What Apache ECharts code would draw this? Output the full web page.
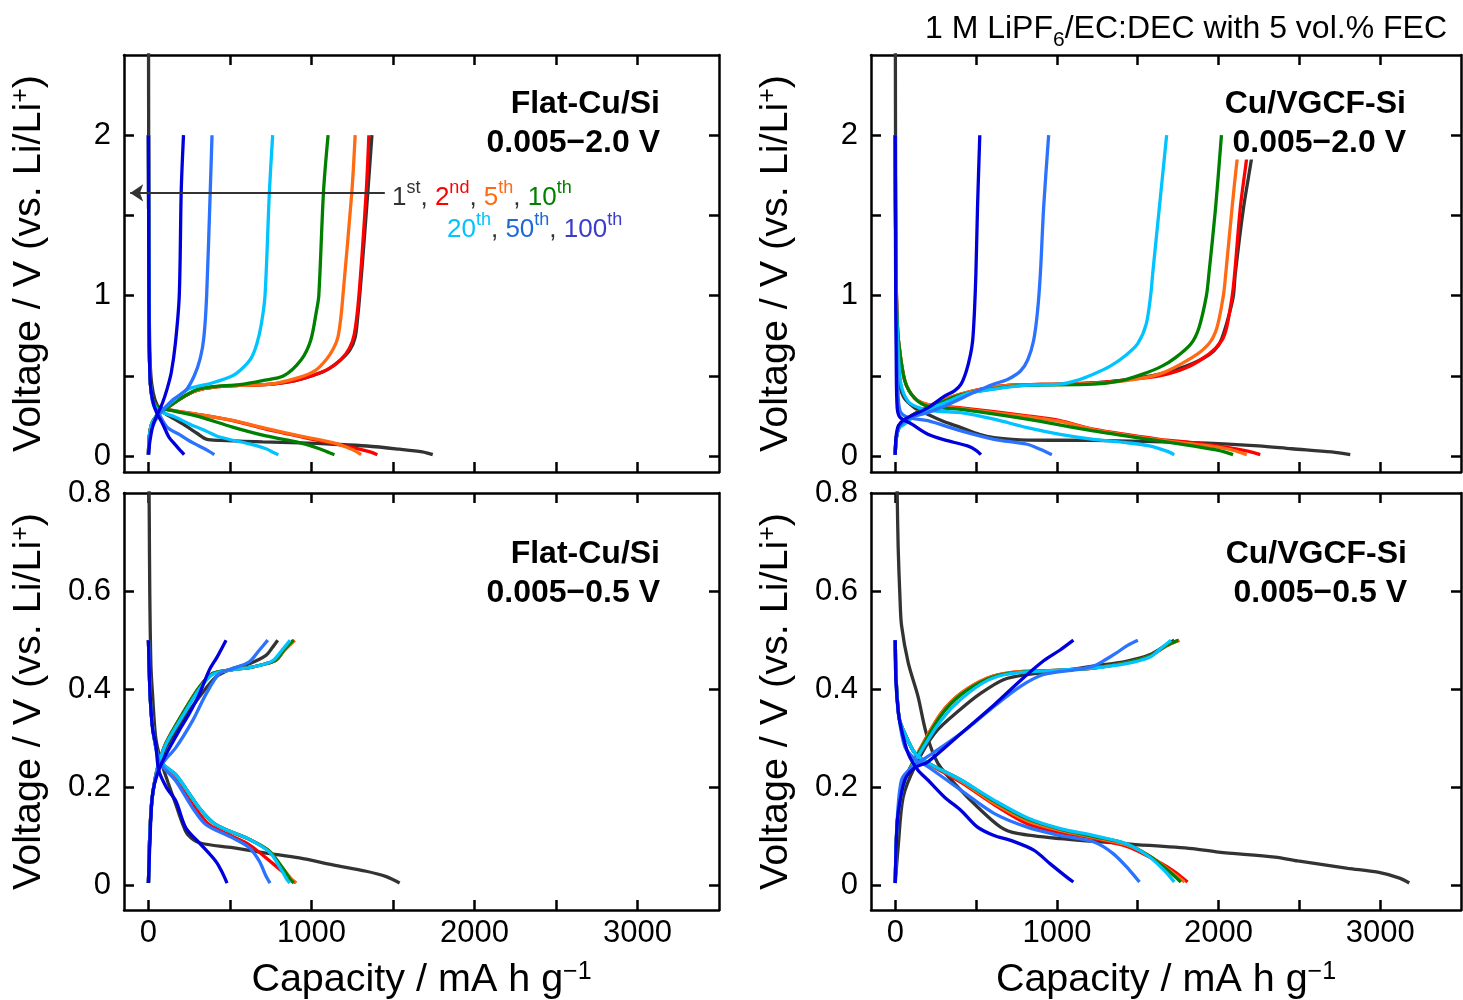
<!DOCTYPE html>
<html>
<head>
<meta charset="utf-8">
<script src="https://cdn.jsdelivr.net/npm/echarts@6/dist/echarts.min.js"></script>
<style>html,body{margin:0;padding:0;background:#fff}#c{width:1463px;height:1000px}</style>
</head>
<body>
<div id="c"></div>
<script>
// ---------------- DATA ----------------
const cycleNames = ['1st', '2nd', '5th', '10th', '20th', '50th', '100th'];

// Ticks / labels
const xTickValues = [0, 500, 1000, 1500, 2000, 2500, 3000];
const xLabelValues = [0, 1000, 2000, 3000];
const wideYTicks = [0, 0.5, 1, 1.5, 2];
const wideYLabels = [0, 1, 2];
const narrowYTicks = [0, 0.2, 0.4, 0.6];
const narrowYLabels = [0, 0.2, 0.4, 0.6, 0.8];
const arrowLine = [[1450, 1.64], [-112, 1.64]];

// Flat-Cu/Si, 0.005-2.0 V  ([capacity mAh/g, voltage V])
const flatWideDischarge = [
  [[0,3.0],[2,1.6],[5,0.9],[10,0.6],[20,0.45],[40,0.35],[70,0.29],[110,0.26],[210,0.2],[300,0.14],[355,0.105],[440,0.097],[700,0.088],[930,0.082],[1140,0.073],[1340,0.062],[1540,0.042],[1680,0.025],[1744,0.008]],
  [[0,2.0],[2,1.2],[5,0.7],[12,0.45],[30,0.34],[70,0.3],[170,0.28],[300,0.26],[516,0.22],[721,0.167],[1008,0.104],[1254,0.052],[1360,0.025],[1404,0.008]],
  [[0,2.0],[2,1.2],[5,0.7],[12,0.45],[30,0.34],[70,0.3],[170,0.28],[300,0.26],[516,0.222],[721,0.172],[926,0.125],[1131,0.083],[1250,0.04],[1305,0.008]],
  [[0,2.0],[2,1.2],[5,0.7],[12,0.45],[30,0.34],[70,0.3],[160,0.28],[311,0.245],[516,0.18],[721,0.125],[926,0.083],[1049,0.045],[1110,0.02],[1141,0.008]],
  [[0,2.0],[2,1.2],[5,0.7],[12,0.45],[30,0.33],[70,0.28],[170,0.24],[250,0.2],[353,0.156],[437,0.118],[619,0.075],[721,0.045],[770,0.02],[797,0.008]],
  [[0,2.0],[2,1.2],[5,0.7],[12,0.45],[30,0.32],[60,0.27],[117,0.177],[189,0.135],[250,0.095],[311,0.062],[370,0.03],[404,0.008]],
  [[0,2.0],[2,1.2],[5,0.7],[12,0.45],[30,0.33],[50,0.27],[87,0.2],[127,0.115],[160,0.075],[195,0.035],[219,0.008]]
];
const flatWideCharge = [
  [[0,0.008],[5,0.12],[20,0.2],[50,0.25],[100,0.29],[200,0.36],[300,0.41],[400,0.43],[560,0.44],[760,0.448],[900,0.47],[1006,0.5],[1100,0.54],[1180,0.6],[1235,0.66],[1268,0.74],[1285,0.88],[1296,1.0],[1320,1.3],[1346,1.65],[1371,2.0]],
  [[0,0.008],[5,0.12],[20,0.2],[50,0.25],[100,0.29],[200,0.36],[300,0.41],[400,0.43],[560,0.44],[760,0.448],[900,0.47],[1000,0.5],[1100,0.54],[1180,0.6],[1232,0.67],[1263,0.76],[1291,1.0],[1336,1.65],[1352,2.0]],
  [[0,0.008],[5,0.12],[20,0.2],[50,0.25],[100,0.29],[200,0.36],[300,0.41],[400,0.43],[560,0.44],[760,0.45],[926,0.49],[1020,0.53],[1090,0.6],[1135,0.67],[1162,0.74],[1180,0.86],[1193,1.0],[1248,1.65],[1268,2.0]],
  [[0,0.008],[5,0.12],[20,0.2],[50,0.25],[100,0.29],[200,0.36],[300,0.415],[400,0.432],[560,0.445],[700,0.47],[830,0.5],[937,0.6],[995,0.72],[1030,0.9],[1045,1.0],[1074,1.65],[1102,2.0]],
  [[0,0.008],[5,0.12],[20,0.2],[50,0.25],[100,0.3],[170,0.36],[250,0.42],[390,0.455],[516,0.5],[580,0.55],[630,0.61],[665,0.7],[692,0.82],[715,1.0],[742,1.65],[762,2.0]],
  [[0,0.008],[5,0.1],[20,0.17],[60,0.25],[150,0.35],[230,0.41],[281,0.5],[318,0.61],[340,0.74],[357,1.0],[379,1.65],[390,2.0]],
  [[0,0.008],[10,0.1],[30,0.2],[60,0.27],[86,0.33],[115,0.42],[140,0.52],[165,0.7],[189,1.0],[201,1.65],[215,2.0]]
];

// Cu/VGCF-Si, 0.005-2.0 V
const vgcfWideDischarge = [
  [[0,3.0],[3,1.5],[8,0.8],[20,0.5],[50,0.37],[120,0.3],[200,0.26],[300,0.215],[407,0.177],[520,0.135],[611,0.115],[816,0.099],[1225,0.097],[1838,0.083],[2247,0.063],[2452,0.045],[2700,0.025],[2815,0.008]],
  [[0,2.0],[3,1.3],[10,0.9],[20,0.72],[59,0.47],[120,0.36],[202,0.32],[407,0.3],[816,0.25],[1020,0.22],[1225,0.167],[1634,0.104],[1838,0.083],[2043,0.055],[2180,0.03],[2258,0.008]],
  [[0,2.0],[3,1.3],[10,0.9],[20,0.72],[59,0.47],[120,0.36],[202,0.32],[407,0.295],[816,0.245],[1020,0.215],[1225,0.165],[1634,0.1],[1838,0.075],[2050,0.045],[2175,0.008]],
  [[0,2.0],[3,1.3],[10,0.9],[20,0.72],[59,0.47],[120,0.36],[202,0.31],[407,0.29],[816,0.229],[1225,0.156],[1634,0.094],[1838,0.063],[2000,0.035],[2090,0.008]],
  [[0,2.0],[3,1.3],[8,0.9],[15,0.72],[35,0.45],[80,0.34],[150,0.3],[250,0.28],[407,0.27],[611,0.229],[816,0.177],[1020,0.135],[1225,0.104],[1429,0.083],[1572,0.063],[1680,0.03],[1726,0.008]],
  [[0,2.0],[3,1.2],[8,0.7],[15,0.45],[30,0.28],[80,0.24],[202,0.22],[407,0.156],[611,0.104],[816,0.073],[900,0.04],[969,0.008]],
  [[0,2.0],[2,1.2],[6,0.6],[12,0.3],[30,0.24],[100,0.2],[202,0.135],[304,0.1],[447,0.0625],[500,0.035],[530,0.008]]
];
const vgcfWideCharge = [
  [[0,0.008],[5,0.1],[20,0.17],[59,0.22],[150,0.27],[250,0.32],[400,0.38],[550,0.42],[700,0.44],[1020,0.448],[1225,0.455],[1429,0.475],[1634,0.51],[1800,0.56],[1941,0.63],[2000,0.69],[2030,0.76],[2070,0.9],[2092,1.0],[2104,1.14],[2155,1.55],[2202,1.84],[2225,2.0]],
  [[0,0.008],[5,0.1],[20,0.17],[59,0.22],[150,0.28],[250,0.33],[400,0.385],[550,0.42],[700,0.44],[1020,0.448],[1225,0.455],[1429,0.475],[1634,0.5],[1800,0.55],[1941,0.635],[2020,0.72],[2050,0.8],[2085,1.0],[2100,1.14],[2135,1.55],[2172,1.84],[2190,2.0]],
  [[0,0.008],[5,0.1],[20,0.17],[59,0.22],[150,0.28],[250,0.33],[400,0.385],[550,0.42],[700,0.44],[1020,0.448],[1225,0.452],[1429,0.47],[1634,0.51],[1838,0.615],[1940,0.7],[1990,0.8],[2030,1.0],[2045,1.14],[2084,1.55],[2114,1.84],[2135,2.0]],
  [[0,0.008],[5,0.1],[20,0.17],[59,0.22],[150,0.28],[250,0.32],[400,0.38],[611,0.42],[800,0.44],[1225,0.448],[1400,0.47],[1531,0.51],[1650,0.56],[1736,0.615],[1830,0.7],[1879,0.8],[1925,1.0],[1941,1.14],[1982,1.55],[2018,2.0]],
  [[0,0.008],[5,0.1],[20,0.17],[59,0.2],[150,0.27],[304,0.33],[450,0.39],[611,0.417],[800,0.44],[1020,0.448],[1120,0.47],[1225,0.51],[1330,0.56],[1429,0.63],[1500,0.7],[1552,0.82],[1580,1.0],[1593,1.14],[1634,1.55],[1679,2.0]],
  [[0,0.008],[8,0.12],[30,0.19],[100,0.24],[200,0.27],[304,0.31],[509,0.406],[611,0.448],[700,0.48],[775,0.53],[820,0.6],[856,0.72],[880,0.9],[898,1.14],[918,1.55],[949,2.0]],
  [[0,0.008],[5,0.12],[20,0.19],[60,0.23],[202,0.3],[300,0.37],[366,0.406],[407,0.448],[440,0.53],[465,0.63],[479,0.72],[490,0.9],[499,1.14],[509,1.55],[523,2.0]]
];

// Flat-Cu/Si, 0.005-0.5 V
const flatNarrowDischarge = [
  [[0,1.2],[2,0.9],[5,0.75],[8,0.6],[15,0.45],[25,0.39],[45,0.3],[76,0.254],[120,0.21],[168,0.165],[210,0.125],[240,0.104],[312,0.087],[516,0.077],[721,0.066],[926,0.056],[1131,0.042],[1336,0.029],[1459,0.018],[1541,0.005]],
  [[0,0.5],[4,0.45],[10,0.39],[20,0.34],[35,0.3],[63,0.26],[94,0.24],[168,0.215],[271,0.165],[373,0.124],[516,0.1],[619,0.083],[762,0.045],[850,0.02],[905,0.005]],
  [[0,0.5],[4,0.45],[10,0.39],[20,0.34],[35,0.3],[63,0.26],[94,0.245],[168,0.225],[312,0.158],[414,0.124],[619,0.094],[742,0.07],[824,0.035],[880,0.012],[905,0.005]],
  [[0,0.5],[4,0.45],[10,0.39],[20,0.34],[35,0.3],[63,0.26],[94,0.245],[168,0.226],[312,0.158],[414,0.124],[619,0.094],[742,0.07],[824,0.035],[870,0.012],[892,0.005]],
  [[0,0.5],[4,0.45],[10,0.39],[20,0.34],[35,0.3],[63,0.26],[94,0.245],[168,0.226],[312,0.158],[414,0.124],[619,0.094],[742,0.068],[810,0.035],[850,0.012],[867,0.005]],
  [[0,0.5],[4,0.45],[10,0.39],[20,0.34],[35,0.3],[63,0.255],[94,0.24],[168,0.213],[271,0.158],[353,0.124],[516,0.097],[619,0.077],[681,0.049],[720,0.02],[746,0.005]],
  [[0,0.5],[4,0.45],[10,0.39],[25,0.32],[45,0.288],[63,0.235],[110,0.2],[168,0.172],[230,0.117],[312,0.087],[414,0.049],[455,0.025],[482,0.005]]
];
const flatNarrowCharge = [
  [[0,0.005],[8,0.1],[20,0.17],[40,0.215],[60,0.24],[107,0.281],[209,0.336],[312,0.384],[414,0.425],[516,0.442],[619,0.452],[721,0.469],[760,0.485],[793,0.5]],
  [[0,0.005],[8,0.1],[20,0.17],[40,0.215],[60,0.245],[107,0.29],[209,0.35],[312,0.404],[393,0.432],[516,0.44],[619,0.444],[721,0.452],[782,0.459],[834,0.48],[895,0.5]],
  [[0,0.005],[8,0.1],[20,0.17],[40,0.215],[60,0.245],[107,0.29],[209,0.35],[312,0.404],[393,0.432],[516,0.44],[619,0.444],[721,0.452],[782,0.459],[836,0.48],[897,0.5]],
  [[0,0.005],[8,0.1],[20,0.17],[40,0.215],[60,0.245],[107,0.29],[209,0.35],[312,0.404],[393,0.432],[516,0.44],[619,0.444],[721,0.452],[782,0.459],[832,0.48],[890,0.5]],
  [[0,0.005],[8,0.1],[20,0.17],[40,0.215],[60,0.245],[107,0.288],[209,0.345],[312,0.4],[393,0.43],[516,0.44],[619,0.444],[721,0.452],[770,0.46],[820,0.48],[869,0.5]],
  [[0,0.005],[8,0.1],[20,0.17],[50,0.23],[100,0.255],[168,0.281],[271,0.336],[353,0.39],[435,0.432],[516,0.442],[619,0.456],[681,0.48],[732,0.5]],
  [[0,0.005],[8,0.08],[25,0.186],[63,0.235],[120,0.275],[189,0.316],[250,0.35],[312,0.39],[373,0.439],[420,0.465],[476,0.5]]
];

// Cu/VGCF-Si, 0.005-0.5 V
const vgcfNarrowDischarge = [
  [[0,1.5],[5,0.95],[12,0.8],[18,0.69],[30,0.58],[39,0.53],[80,0.454],[141,0.385],[192,0.31],[264,0.249],[386,0.201],[509,0.16],[652,0.119],[755,0.106],[1020,0.0955],[1429,0.085],[1838,0.075],[2000,0.068],[2350,0.058],[2490,0.05],[2800,0.035],[2985,0.027],[3120,0.015],[3180,0.005]],
  [[0,0.5],[3,0.45],[8,0.406],[25,0.34],[59,0.31],[121,0.27],[202,0.249],[407,0.21],[611,0.165],[816,0.126],[1020,0.108],[1225,0.096],[1429,0.08],[1573,0.058],[1720,0.03],[1808,0.007]],
  [[0,0.5],[3,0.45],[8,0.406],[25,0.34],[59,0.31],[121,0.27],[202,0.25],[407,0.213],[611,0.168],[816,0.132],[1020,0.112],[1225,0.098],[1429,0.083],[1573,0.06],[1700,0.03],[1790,0.007]],
  [[0,0.5],[3,0.45],[8,0.406],[25,0.34],[59,0.31],[121,0.27],[202,0.25],[407,0.215],[611,0.172],[816,0.136],[1020,0.115],[1225,0.1],[1429,0.085],[1573,0.06],[1690,0.03],[1767,0.007]],
  [[0,0.5],[3,0.45],[8,0.406],[25,0.34],[59,0.31],[121,0.27],[202,0.25],[407,0.215],[611,0.174],[816,0.138],[1020,0.116],[1225,0.102],[1429,0.085],[1573,0.058],[1675,0.027],[1726,0.007]],
  [[0,0.5],[4,0.42],[20,0.35],[59,0.283],[121,0.258],[202,0.242],[407,0.194],[611,0.147],[816,0.119],[1020,0.102],[1225,0.089],[1348,0.065],[1450,0.031],[1511,0.007]],
  [[0,0.5],[4,0.42],[20,0.35],[39,0.317],[80,0.269],[141,0.235],[202,0.215],[305,0.18],[407,0.153],[509,0.119],[611,0.102],[714,0.092],[857,0.072],[959,0.044],[1061,0.017],[1102,0.007]]
];
const vgcfNarrowCharge = [
  [[0,0.005],[18,0.078],[49,0.18],[121,0.242],[243,0.31],[400,0.358],[530,0.392],[673,0.42],[816,0.43],[1020,0.437],[1225,0.447],[1429,0.457],[1573,0.47],[1675,0.49],[1726,0.5]],
  [[0,0.005],[8,0.1],[18,0.147],[59,0.215],[162,0.283],[284,0.351],[407,0.392],[571,0.423],[714,0.434],[1020,0.439],[1225,0.443],[1429,0.454],[1573,0.467],[1675,0.488],[1757,0.5]],
  [[0,0.005],[8,0.1],[18,0.147],[59,0.215],[162,0.283],[284,0.351],[407,0.392],[571,0.423],[714,0.434],[1020,0.439],[1225,0.443],[1429,0.454],[1573,0.467],[1675,0.488],[1755,0.5]],
  [[0,0.005],[8,0.1],[18,0.147],[59,0.215],[162,0.28],[284,0.347],[407,0.389],[571,0.421],[714,0.433],[1020,0.439],[1225,0.443],[1429,0.454],[1573,0.467],[1670,0.488],[1750,0.5]],
  [[0,0.005],[8,0.1],[18,0.147],[59,0.215],[162,0.275],[284,0.337],[407,0.38],[571,0.418],[714,0.432],[1020,0.439],[1225,0.443],[1429,0.452],[1573,0.465],[1650,0.485],[1706,0.5]],
  [[0,0.005],[10,0.12],[39,0.215],[100,0.24],[202,0.263],[407,0.31],[611,0.365],[775,0.406],[918,0.43],[1123,0.44],[1225,0.447],[1300,0.46],[1368,0.474],[1440,0.49],[1501,0.5]],
  [[0,0.005],[8,0.1],[18,0.147],[59,0.215],[120,0.24],[202,0.252],[407,0.31],[611,0.368],[775,0.418],[918,0.458],[1020,0.48],[1102,0.5]]
];

// ---------------- STYLE / LAYOUT ----------------
const FONT = '"Liberation Sans", Arial, Helvetica, sans-serif';
const cycleColors = ['#333333', '#ff0000', '#ff6a13', '#008000', '#00c3ff', '#2b72ff', '#0000dc'];
const labelColors = ['#333333', '#ff0000', '#ff6a13', '#008000', '#00c3ff', '#1b6ad6', '#3b3bcc'];

const gridBoxes = [
  { left: 124, top: 55, width: 595, height: 417 },
  { left: 871, top: 55, width: 590, height: 417 },
  { left: 124, top: 493, width: 595, height: 417 },
  { left: 871, top: 493, width: 590, height: 417 }
];
const panels = [
  { g: 0, wide: true, bottom: false, dis: flatWideDischarge, chg: flatWideCharge },
  { g: 1, wide: true, bottom: false, dis: vgcfWideDischarge, chg: vgcfWideCharge },
  { g: 2, wide: false, bottom: true, dis: flatNarrowDischarge, chg: flatNarrowCharge },
  { g: 3, wide: false, bottom: true, dis: vgcfNarrowDischarge, chg: vgcfNarrowCharge }
];

function axisLineStyle() { return { show: true, onZero: false, lineStyle: { color: '#000', width: 2.5 } }; }
function tickStyle(vals) { return { show: true, inside: true, length: 10, customValues: vals, lineStyle: { color: '#000', width: 2.5 } }; }
const NAME_SIZE = 39.5;
const nameRich = {
  n: { fontSize: NAME_SIZE, fontFamily: FONT, color: '#000', verticalAlign: 'bottom' },
  s: { fontSize: 25, fontFamily: FONT, color: '#000', verticalAlign: 'top' }
};

const xAxes = [], yAxes = [];
panels.forEach(p => {
  xAxes.push({
    gridIndex: p.g, type: 'value', min: -150, max: 3500, position: 'bottom',
    splitLine: { show: false }, axisLine: axisLineStyle(), axisTick: tickStyle(xTickValues),
    axisLabel: { show: p.bottom, customValues: xLabelValues, formatter: v => String(v), fontSize: 31, color: '#000', fontFamily: FONT, margin: 8 },
    name: p.bottom ? '{n|Capacity / mA h g}{s|\u22121}' : '', nameLocation: 'middle', nameGap: 50,
    nameTextStyle: { fontSize: NAME_SIZE, fontFamily: FONT, color: '#000', rich: nameRich }
  });
  xAxes.push({
    gridIndex: p.g, type: 'value', min: -150, max: 3500, position: 'top',
    splitLine: { show: false }, axisLine: axisLineStyle(), axisTick: tickStyle(xTickValues), axisLabel: { show: false }
  });
  const ymin = p.wide ? -0.1 : -0.05, ymax = p.wide ? 2.5 : 0.8;
  yAxes.push({
    gridIndex: p.g, type: 'value', min: ymin, max: ymax, position: 'left',
    splitLine: { show: false }, axisLine: axisLineStyle(), axisTick: tickStyle(p.wide ? wideYTicks : narrowYTicks),
    axisLabel: { customValues: p.wide ? wideYLabels : narrowYLabels, formatter: v => String(v), fontSize: 31, color: '#000', fontFamily: FONT, margin: 13 },
    name: '{n|Voltage / V (vs. Li/Li}{s|+}{n|)}', nameLocation: 'middle', nameGap: 75,
    nameTextStyle: { fontSize: NAME_SIZE, fontFamily: FONT, color: '#000', rich: nameRich }
  });
  yAxes.push({
    gridIndex: p.g, type: 'value', min: ymin, max: ymax, position: 'right',
    splitLine: { show: false }, axisLine: axisLineStyle(), axisTick: tickStyle(p.wide ? wideYTicks : narrowYTicks), axisLabel: { show: false }
  });
});

const series = [];
panels.forEach(p => {
  for (let i = 0; i < cycleNames.length; i++) {
    [p.dis[i], p.chg[i]].forEach((d, k) => {
      series.push({
        type: 'line', name: cycleNames[i] + (k ? ' charge' : ' discharge'),
        xAxisIndex: 2 * p.g, yAxisIndex: 2 * p.g, data: d,
        showSymbol: false, symbol: 'none', smooth: 0.3,
        lineStyle: { color: cycleColors[i], width: 3.3 }, itemStyle: { color: cycleColors[i] },
        silent: true, animation: false
      });
    });
  }
});
series[0].markLine = {
  silent: true, animation: false, symbol: ['none', 'arrow'], symbolSize: 13,
  lineStyle: { color: '#333', width: 2, type: 'solid' }, label: { show: false },
  data: [[{ coord: arrowLine[0] }, { coord: arrowLine[1] }]]
};

function tok(size, color, va, weight, extra) {
  return Object.assign({ fontSize: size, fontFamily: FONT, fontWeight: weight || 'normal', fill: color, color: color, verticalAlign: va }, extra || {});
}
function textEl(x, y, text, rich, align, vAlign, extra) {
  return {
    type: 'text', x: x, y: y, z: 100, silent: true,
    style: Object.assign({ text: text, rich: rich, align: align, textAlign: align, verticalAlign: vAlign, textVerticalAlign: vAlign, fill: '#000', font: '31px ' + FONT }, extra || {})
  };
}
const labelRich = {
  b: tok(32, '#000', 'middle', 'bold', { lineHeight: 39 }),
  w: tok(32, '#000', 'middle', 'bold', { lineHeight: 39, backgroundColor: '#fff' })
};
const legendRich = {};
['a','b','c','d','e','f','g'].forEach((k, i) => {
  legendRich[k] = tok(26, labelColors[i], 'bottom', 'normal', { lineHeight: 31 });
  legendRich[k + 's'] = tok(18, labelColors[i], 'top', 'normal');
});
legendRich.k = tok(26, '#333333', 'bottom', 'normal', { lineHeight: 31 });

const graphics = [
  textEl(1447, 32, '{n|1 M LiPF}{b|6}{n|/EC:DEC with 5 vol.% FEC}', {
    n: tok(32, '#000', 'top', 'normal', { lineHeight: 34 }),
    b: tok(21, '#000', 'top', 'normal', { padding: [17, 0, 0, 0] })
  }, 'right', 'middle'),
  textEl(660, 85, '{b|Flat-Cu/Si}\n{b|0.005\u22122.0 V}', labelRich, 'right', 'top'),
  textEl(1406, 85, '{b|Cu/VGCF-Si}\n{w|0.005\u22122.0 V}', labelRich, 'right', 'top'),
  textEl(660, 535, '{b|Flat-Cu/Si}\n{b|0.005\u22120.5 V}', labelRich, 'right', 'top'),
  textEl(1407, 535, '{b|Cu/VGCF-Si}\n{b|0.005\u22120.5 V}', labelRich, 'right', 'top'),
  textEl(392, 195, '{a|1}{as|st}{k|, }{b|2}{bs|nd}{k|, }{c|5}{cs|th}{k|, }{d|10}{ds|th}', legendRich, 'left', 'middle'),
  textEl(447, 227, '{e|20}{es|th}{k|, }{f|50}{fs|th}{k|, }{g|100}{gs|th}', legendRich, 'left', 'middle')
];

const chart = echarts.init(document.getElementById('c'), null, { renderer: 'canvas' });
chart.setOption({
  backgroundColor: '#fff',
  animation: false,
  textStyle: { fontFamily: FONT },
  grid: gridBoxes.map(b => Object.assign({ show: false, containLabel: false, outerBoundsMode: 'none' }, b)),
  xAxis: xAxes,
  yAxis: yAxes,
  series: series,
  graphic: { elements: graphics }
});
</script>
</body>
</html>
